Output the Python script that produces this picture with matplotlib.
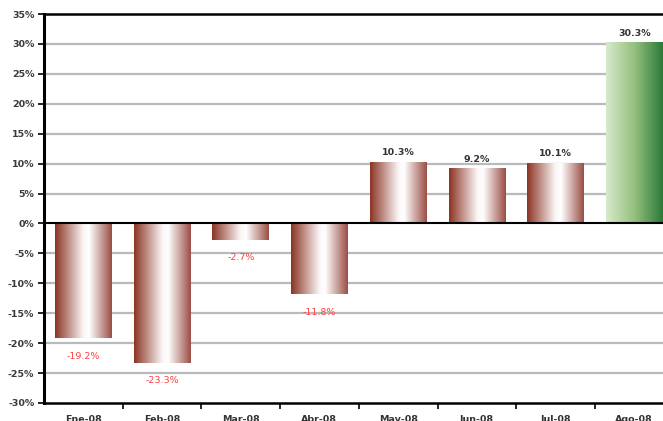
import numpy as np
import matplotlib
matplotlib.use("Agg")
import matplotlib.pyplot as plt
from matplotlib.colors import LinearSegmentedColormap

categories = ["Ene-08", "Feb-08", "Mar-08", "Abr-08", "May-08", "Jun-08", "Jul-08", "Ago-08"]
values = [-19.2, -23.3, -2.7, -11.8, 10.3, 9.2, 10.1, 30.3]
highlight = [False, False, False, False, False, False, False, True]
yticks = list(range(-30, 40, 5))

brown = LinearSegmentedColormap.from_list("brown", [(0.0, "#8b3424"), (0.5, "#fbf6f6"), (0.6, "#ffffff"), (1.0, "#9a4e45")])
green = LinearSegmentedColormap.from_list("green", [(0.0, "#d6eacb"), (0.5, "#95c07e"), (1.0, "#2b7a38")])

fig = plt.figure(figsize=(6.63, 4.21), dpi=100)
W, H = 663, 421
left_px, top_px, bottom_px = 44, 14, 403
cat_w = 78.7
ax = fig.add_axes([left_px / W, (H - bottom_px) / H, 8 * cat_w / W, (bottom_px - top_px) / H])

ax.set_xlim(-0.5, len(categories) - 0.5)
ax.set_ylim(-30, 35)

for y in yticks:
    if y not in (-30, 0, 35):
        ax.axhline(y, color="#b8babc", lw=1.6, zorder=1)
ax.axhline(0, color="black", lw=1.5, zorder=4)

bars = ax.bar(range(len(categories)), values, width=0.72, color="none", edgecolor="none", zorder=3)
grad = np.linspace(0, 1, 256).reshape(1, -1)
for b, v, h in zip(bars, values, highlight):
    x0 = b.get_x()
    x1 = x0 + b.get_width()
    y0, y1 = sorted([0, v])
    im = ax.imshow(grad, cmap=green if h else brown, extent=[x0, x1, y0, y1],
                   aspect="auto", zorder=3, interpolation="bilinear")
    im.set_clip_path(b)

for i, v in enumerate(values):
    if v >= 0:
        ax.annotate(f"{v:.1f}%", (i, v), xytext=(0, 6.5), textcoords="offset points",
                    ha="center", va="center", fontsize=6.8, fontweight="bold", color="#333333")
    else:
        ax.annotate(f"{v:.1f}%", (i, v), xytext=(0, -13), textcoords="offset points",
                    ha="center", va="center", fontsize=6.8, color="#ff4040")

ax.set_yticks(yticks)
ax.set_yticklabels([f"{y}%" for y in yticks], fontsize=6.8, color="#3a3a3a", fontweight="bold")
ax.set_xticks(np.arange(len(categories) - 1) + 0.5, minor=False)
ax.set_xticklabels([])
ax.tick_params(axis="x", which="major", direction="out", length=4, width=1.2, color="black")
for i, c in enumerate(categories):
    ax.annotate(c, (i, 0), xycoords=("data", "axes fraction"), xytext=(0, -9),
                textcoords="offset points", ha="center", va="top", fontsize=6.8,
                fontweight="bold", color="#333333", annotation_clip=False)
ax.tick_params(axis="y", direction="out", length=4, width=1.2, color="black", pad=3)

for s in ["left", "top", "bottom"]:
    ax.spines[s].set_color("black")
ax.spines["left"].set_linewidth(2.2)
ax.spines["top"].set_linewidth(1.8)
ax.spines["bottom"].set_linewidth(1.8)
ax.spines["right"].set_visible(False)
ax.spines["bottom"].set_zorder(5)

fig.savefig("out.png", dpi=100)
